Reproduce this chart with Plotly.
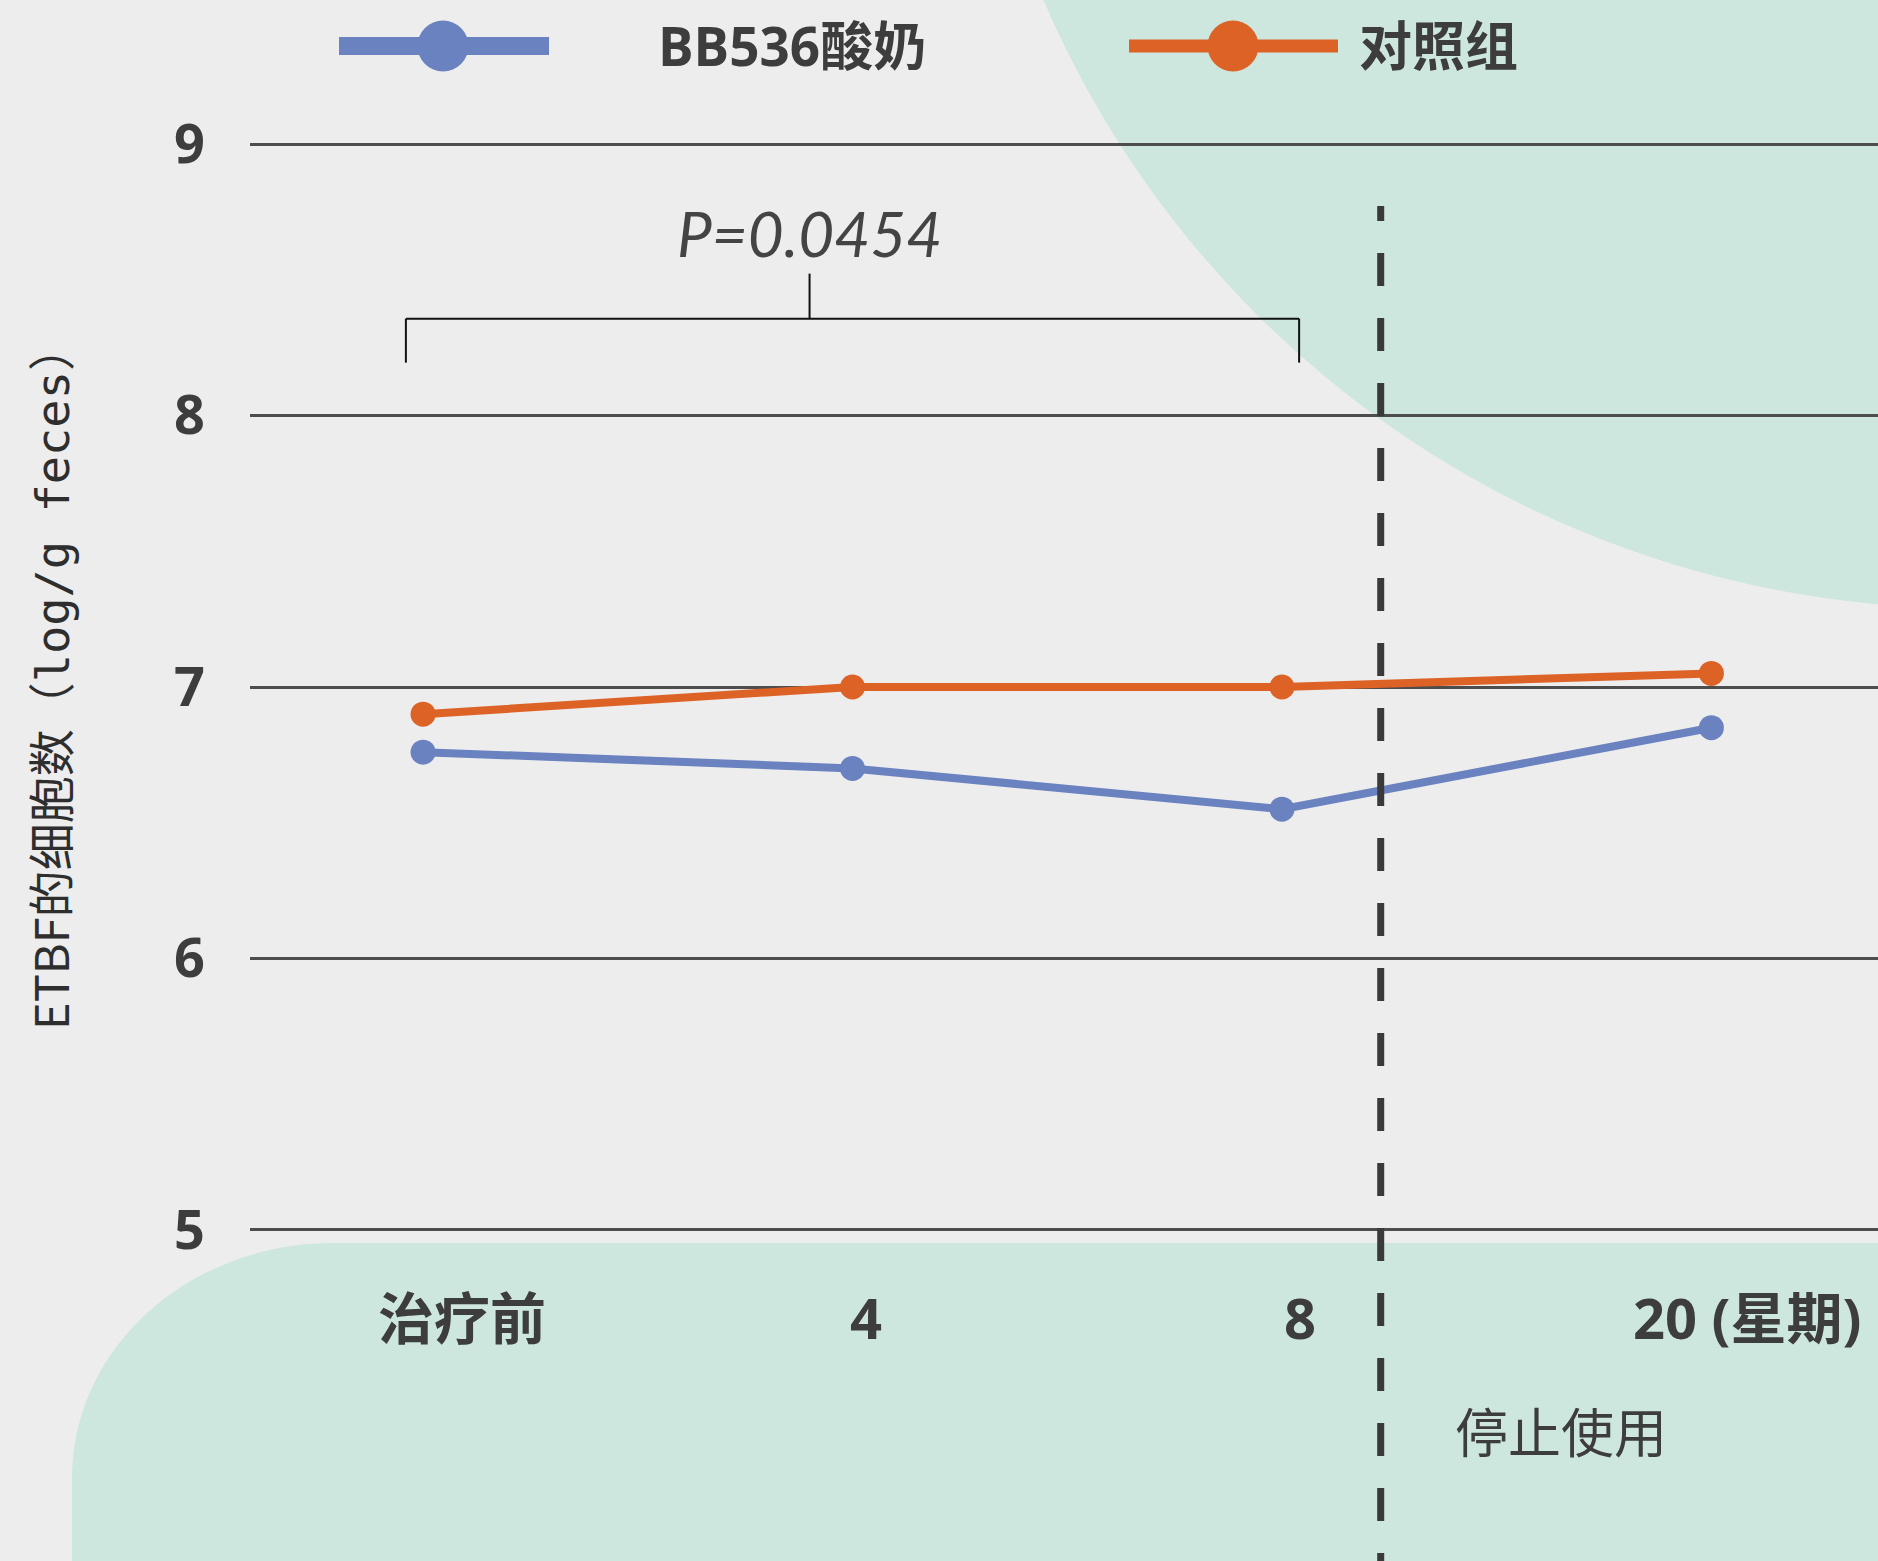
import plotly.graph_objects as go

# ---- data -------------------------------------------------------------
categories = ["治疗前", "4", "8", "20 (星期)"]
bb536_values = [6.76, 6.70, 6.55, 6.85]      # BB536酸奶
control_values = [6.90, 7.00, 7.00, 7.05]    # 对照组
series_names = ["BB536酸奶", "对照组"]
y_ticks = [5, 6, 7, 8, 9]
p_label = "P=0.0454"
stop_label = "停止使用"
y_title = "ETBF的细胞数（<span style=\"font-family:'DejaVu Sans Mono'\">log/g feces</span>）"

# ---- style ------------------------------------------------------------
BLUE = "#6a82bf"
ORANGE = "#dd6226"
BG = "#ededed"
MINT = "#cde7df"
INK = "#3d3d3d"
BOLD_FONT = "Open Sans, Noto Sans CJK SC"
CJK_FONT = "Noto Sans CJK SC"

W, H = 1878, 1561
ML, MR, MT, MB = 250, 0, 136, 323
PW, PH = W - ML - MR, H - MT - MB


def px(x):
    """page pixel -> paper x"""
    return (x - ML) / PW


def py(y):
    """page pixel -> paper y"""
    return (H - MB - y) / PH


xi = list(range(len(categories)))

fig = go.Figure()
fig.add_trace(go.Scatter(
    x=xi, y=control_values, name=series_names[1], mode="lines+markers",
    line=dict(color=ORANGE, width=8), marker=dict(color=ORANGE, size=25),
    showlegend=False,
))
fig.add_trace(go.Scatter(
    x=xi, y=bb536_values, name=series_names[0], mode="lines+markers",
    line=dict(color=BLUE, width=8), marker=dict(color=BLUE, size=25),
    showlegend=False,
))

shapes = []
# decorative background blobs
shapes.append(dict(type="circle", xref="paper", yref="paper", layer="below",
                   x0=px(962), x1=px(2970), y0=py(608), y1=py(-1400),
                   fillcolor=MINT, line=dict(width=0)))
shapes.append(dict(
    type="path", xref="paper", yref="paper", layer="below",
    path=(f"M {px(72)},{py(1620)} L {px(72)},{py(1478)} "
          f"C {px(72)},{py(1348)} {px(189)},{py(1243)} {px(333)},{py(1243)} "
          f"L {px(1920)},{py(1243)} L {px(1920)},{py(1620)} Z"),
    fillcolor=MINT, line=dict(width=0)))

# significance bracket between baseline and week 8
br_left, br_right, br_mid = -0.04, 2.04, 0.9
br_top, br_foot, br_stem = 8.357, 8.195, 8.523
bracket = dict(color="#111111", width=2)
shapes += [
    dict(type="line", xref="x", yref="y", x0=br_left, x1=br_right, y0=br_top, y1=br_top, line=bracket),
    dict(type="line", xref="x", yref="y", x0=br_left, x1=br_left, y0=br_top, y1=br_foot, line=bracket),
    dict(type="line", xref="x", yref="y", x0=br_right, x1=br_right, y0=br_top, y1=br_foot, line=bracket),
    dict(type="line", xref="x", yref="y", x0=br_mid, x1=br_mid, y0=br_top, y1=br_stem, line=bracket),
]

# treatment stop marker
stop_x = 2.23
shapes.append(dict(type="line", xref="x", yref="paper", x0=stop_x, x1=stop_x,
                   y0=py(1651), y1=py(206),
                   line=dict(color="#3a3a3a", width=7, dash="33px,32px")))

# legend drawn by hand
legend_items = [
    (series_names[0], BLUE, 339, 549, 18, 443, 656),
    (series_names[1], ORANGE, 1129, 1338, 13, 1233, 1357),
]
annotations = []
for name, color, lx0, lx1, lw, cx, tx in legend_items:
    shapes.append(dict(type="line", xref="paper", yref="paper",
                       x0=px(lx0), x1=px(lx1), y0=py(46), y1=py(46),
                       line=dict(color=color, width=lw)))
    shapes.append(dict(type="circle", xref="paper", yref="paper",
                       xsizemode="pixel", ysizemode="pixel",
                       xanchor=px(cx), yanchor=py(46),
                       x0=-25.5, x1=25.5, y0=-25.5, y1=25.5,
                       fillcolor=color, line=dict(width=0)))
    annotations.append(dict(text=name, xref="paper", yref="paper",
                            x=px(tx), y=py(46), xanchor="left", yanchor="middle",
                            showarrow=False,
                            font=dict(family=BOLD_FONT, size=53, color=INK, weight="bold")))

# category labels under the axis
label_shift = [39, 13, 18, 36]
for i, (lab, dx) in enumerate(zip(categories, label_shift)):
    annotations.append(dict(text=lab, xref="x", yref="paper", x=i, y=py(1317),
                            xshift=dx, xanchor="center", yanchor="middle",
                            showarrow=False,
                            font=dict(family=BOLD_FONT, size=56, color=INK, weight="bold")))

annotations.append(dict(text=p_label, xref="x", yref="y", x=br_mid, y=8.674,
                        xanchor="center", yanchor="middle", showarrow=False,
                        font=dict(family="Lato, Open Sans", size=62, color="#444444",
                                  style="italic", weight=400)))
annotations.append(dict(text=stop_label, xref="x", yref="paper", x=stop_x, xshift=72,
                        y=py(1430), xanchor="left", yanchor="middle", showarrow=False,
                        font=dict(family=CJK_FONT, size=53, color=INK)))
annotations.append(dict(text=y_title, xref="paper", yref="paper", x=px(48), y=py(677),
                        xanchor="center", yanchor="middle", textangle=-90,
                        showarrow=False,
                        font=dict(family=CJK_FONT, size=47, color="#2e2e2e")))

fig.update_layout(
    width=W, height=H,
    margin=dict(l=ML, r=MR, t=MT, b=MB, pad=0),
    paper_bgcolor=BG, plot_bgcolor="rgba(0,0,0,0)",
    shapes=shapes, annotations=annotations,
    showlegend=False,
    xaxis=dict(range=[-0.403, 3.388], showgrid=False, zeroline=False,
               showticklabels=False, ticks="", showline=False, fixedrange=True),
    yaxis=dict(range=[4.97, 9.03], tickvals=y_ticks, ticktext=[str(v) for v in y_ticks],
               showgrid=True, gridcolor="#4d4d4d", gridwidth=2.5, zeroline=False,
               showline=False, ticks="", ticklabelstandoff=44, automargin=False,
               tickfont=dict(family=BOLD_FONT, size=54, color=INK, weight="bold"),
               fixedrange=True),
)

fig.write_html("out.html")
